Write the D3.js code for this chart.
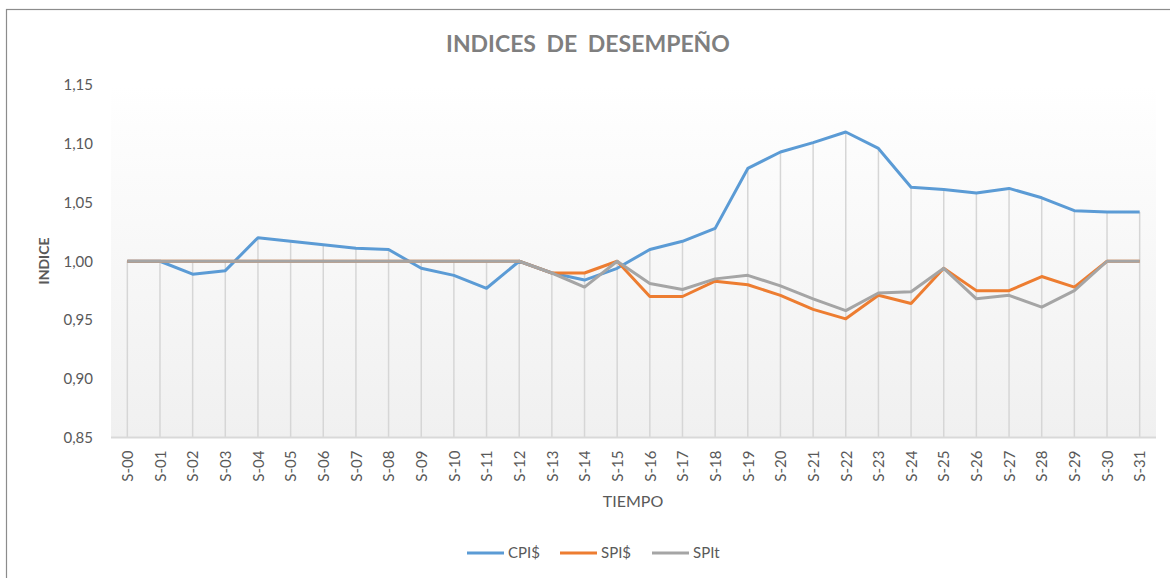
<!DOCTYPE html>
<html>
<head>
<meta charset="utf-8">
<script src="https://cdn.jsdelivr.net/npm/d3@7"></script>
<style>
  body { margin: 0; background: #fff; }
  svg text { font-family: Lato, "Open Sans", sans-serif; fill: #595959; }
</style>
</head>
<body>
<div id="chart"></div>
<script>
// semanas
var weeks = [];
for (var i = 0; i < 32; i++) weeks.push("S-" + (i < 10 ? "0" + i : "" + i));

var cpi = [1.000, 1.000, 0.989, 0.992, 1.020, 1.017, 1.014, 1.011, 1.010, 0.994,
           0.988, 0.977, 1.000, 0.990, 0.984, 0.994, 1.010, 1.017, 1.028, 1.079,
           1.093, 1.101, 1.110, 1.096, 1.063, 1.061, 1.058, 1.062, 1.054, 1.043,
           1.042, 1.042];
var spiD = [1.000, 1.000, 1.000, 1.000, 1.000, 1.000, 1.000, 1.000, 1.000, 1.000,
            1.000, 1.000, 1.000, 0.990, 0.990, 1.000, 0.970, 0.970, 0.983, 0.980,
            0.971, 0.959, 0.951, 0.971, 0.964, 0.994, 0.975, 0.975, 0.987, 0.978,
            1.000, 1.000];
var spiT = [1.000, 1.000, 1.000, 1.000, 1.000, 1.000, 1.000, 1.000, 1.000, 1.000,
            1.000, 1.000, 1.000, 0.990, 0.978, 1.000, 0.981, 0.976, 0.985, 0.988,
            0.979, 0.968, 0.958, 0.973, 0.974, 0.994, 0.968, 0.971, 0.961, 0.975,
            1.000, 1.000];
var yTicks = [0.85, 0.90, 0.95, 1.00, 1.05, 1.10, 1.15];

var series = [
  { name: "CPI$", values: cpi, color: "#5b9bd5" },
  { name: "SPI$", values: spiD, color: "#ed7d31" },
  { name: "SPIt", values: spiT, color: "#a5a5a5" }
];

var W = 1170, H = 578;
var pLeft = 111, pRight = 1156, pTop = 85, pBottom = 437.5;

var svg = d3.select("#chart").append("svg")
  .attr("width", W).attr("height", H);

// marco
svg.append("rect")
  .attr("x", 6.5).attr("y", 9.5)
  .attr("width", W).attr("height", H)
  .attr("fill", "none").attr("stroke", "#8c8c8c").attr("stroke-width", 1.2);

var grad = svg.append("defs").append("linearGradient")
  .attr("id", "bg").attr("x1", 0).attr("y1", 0).attr("x2", 0).attr("y2", 1);
grad.append("stop").attr("offset", "0%").attr("stop-color", "#ffffff");
grad.append("stop").attr("offset", "12%").attr("stop-color", "#fdfdfd");
grad.append("stop").attr("offset", "100%").attr("stop-color", "#f0f0f0");

var x = d3.scalePoint().domain(weeks).range([pLeft, pRight]).padding(0.5);
var y = d3.scaleLinear().domain([0.85, 1.15]).range([pBottom, pTop]);

svg.append("rect")
  .attr("x", pLeft).attr("y", pTop)
  .attr("width", pRight - pLeft).attr("height", pBottom - pTop)
  .attr("fill", "url(#bg)");

// lineas de caida
svg.append("g").selectAll("line")
  .data(weeks)
  .enter().append("line")
  .attr("x1", function(d) { return x(d); })
  .attr("x2", function(d) { return x(d); })
  .attr("y1", y(0.85))
  .attr("y2", function(d, i) { return y(Math.max(cpi[i], spiD[i], spiT[i])); })
  .attr("stroke", "#d6d6d6").attr("stroke-width", 1.5);

// eje y (sin linea)
var yAxis = svg.append("g")
  .attr("transform", "translate(" + pLeft + ",0)")
  .call(d3.axisLeft(y).tickValues(yTicks).tickSize(0).tickPadding(18)
    .tickFormat(function(d) { return d3.format(".2f")(d).replace(".", ","); }));
yAxis.select(".domain").remove();
yAxis.selectAll("text").style("font-size", "15px").attr("fill", "#595959");

var xAxis = svg.append("g")
  .attr("transform", "translate(0," + pBottom + ")")
  .call(d3.axisBottom(x).tickSize(0));
xAxis.select(".domain").attr("stroke", "#d9d9d9").attr("stroke-width", 2)
  .attr("d", "M" + pLeft + ",0H" + pRight);
xAxis.selectAll("text")
  .style("font-size", "15px").attr("fill", "#595959")
  .attr("text-anchor", "end")
  .attr("dy", "0.35em")
  .attr("transform", "translate(0,13) rotate(-90)")
  .attr("x", 0).attr("y", 0);

var line = d3.line()
  .x(function(d, i) { return x(weeks[i]); })
  .y(function(d) { return y(d); });

svg.append("g").selectAll("path")
  .data(series)
  .enter().append("path")
  .attr("d", function(s) { return line(s.values); })
  .attr("fill", "none")
  .attr("stroke", function(s) { return s.color; })
  .attr("stroke-width", 3)
  .attr("stroke-linejoin", "round");

svg.append("text")
  .attr("x", 588).attr("y", 52)
  .attr("text-anchor", "middle")
  .style("font-size", "23px").style("font-weight", "bold")
  .style("word-spacing", "5px")
  .style("fill", "#7f7f7f")
  .text("INDICES DE DESEMPEÑO");

svg.append("text")
  .attr("transform", "translate(49,261) rotate(-90)")
  .attr("text-anchor", "middle")
  .style("font-size", "14px").style("font-weight", "bold")
  .text("INDICE");

svg.append("text")
  .attr("x", 633).attr("y", 507)
  .attr("text-anchor", "middle")
  .style("font-size", "16px")
  .text("TIEMPO");

// leyenda
var leg = svg.append("g").selectAll("g")
  .data(series)
  .enter().append("g")
  .attr("transform", function(d, i) { return "translate(" + [467, 560, 652][i] + ",553)"; });
leg.append("line")
  .attr("x1", 0).attr("x2", 37)
  .attr("stroke", function(d) { return d.color; })
  .attr("stroke-width", 3);
leg.append("text")
  .attr("x", 41).attr("dy", "0.35em")
  .style("font-size", "15px")
  .text(function(d) { return d.name; });
</script>
</body>
</html>
